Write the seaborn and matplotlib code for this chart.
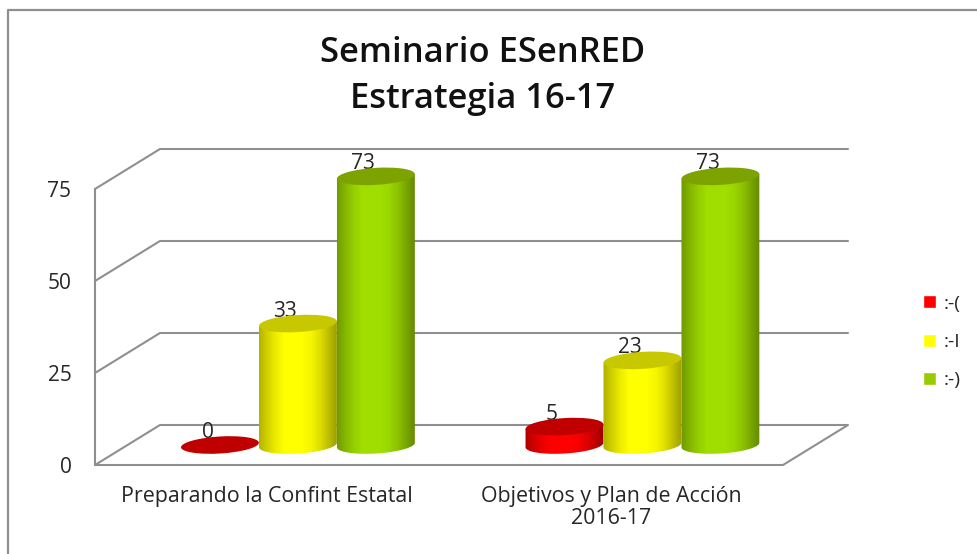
import numpy as np
import pandas as pd
import matplotlib.pyplot as plt
import seaborn as sns
from matplotlib.patches import Ellipse
from matplotlib.path import Path
from matplotlib.transforms import IdentityTransform, ScaledTranslation

categories = ['Preparando la Confint Estatal', 'Objetivos y Plan de Acción\n2016-17']
faces = [':-(', ':-I', ':-)']
sad = [0, 5]
neutral = [33, 23]
happy = [73, 73]
y_ticks = [0, 25, 50, 75]
title = 'Seminario ESenRED\nEstrategia 16-17'

legend_colors = ['#ff0000', '#ffff00', '#99cc00']
body_colors = [(1.0, 0.0, 0.0), (1.0, 1.0, 0.0), (0.63, 0.87, 0.0)]
top_colors = ['#c00000', '#c8c800', '#7da300']

W, H = 977, 554
GRAY = '#8f8f8f'
TEXT = '#262626'


def box(left, top, right, bottom):
    return [left / W, 1 - bottom / H, (right - left) / W, (bottom - top) / H]


sns.set_style('white')
plt.rcParams['font.family'] = ['Open Sans', 'DejaVu Sans']

df = pd.DataFrame({
    'cat': categories * 3,
    'face': [faces[0]] * 2 + [faces[1]] * 2 + [faces[2]] * 2,
    'val': sad + neutral + happy,
})

fig = plt.figure(figsize=(W / 100, H / 100), dpi=100)

# background in pixels: outer frame and the fake 3d walls
bg = fig.add_axes([0, 0, 1, 1], zorder=0)
bg.set_xlim(0, W)
bg.set_ylim(H, 0)
bg.axis('off')
bg.plot([8, 8, 977], [554, 10, 10], color=GRAY, lw=1.6)
for v in y_ticks[1:]:
    y = 465 - v * 276 / 75
    bg.plot([95, 160, 848], [y, y - 40, y - 40], color=GRAY, lw=1.5)
bg.plot([95, 160, 848, 783, 95], [465, 425, 425, 465, 465], color=GRAY, lw=1.5)

# value axis, sits on the front edge
wall = fig.add_axes(box(95, 189, 783, 465), zorder=1)
wall.set_ylim(0, 75)
wall.set_xticks([])
wall.set_yticks(y_ticks)
wall.patch.set_alpha(0)
for s in ['top', 'right', 'bottom']:
    wall.spines[s].set_visible(False)
wall.spines['left'].set_color(GRAY)
wall.spines['left'].set_linewidth(1.5)
wall.tick_params(axis='y', length=0, pad=17, labelsize=15, labelcolor=TEXT)

# the cylinders
ax = fig.add_axes(box(95, 149, 783, 465), zorder=2)
sns.barplot(data=df, x='cat', y='val', hue='face', hue_order=faces, order=categories,
            palette=legend_colors, width=0.679, gap=0, ax=ax, saturation=1)
ax.patch.set_alpha(0)
xlim = (-0.589, 1.408)
ylim = (-20 / 3.68, 296 / 3.68)
ax.set_xlim(xlim)
ax.set_ylim(ylim)
ax.set_xlabel('')
ax.set_ylabel('')
ax.set_yticks([])
sns.despine(ax=ax, left=True, bottom=True)
ax.tick_params(axis='x', length=0, pad=15, labelsize=15.4, labelcolor=TEXT)
# labels sit left of the bar groups in the original
shift = ScaledTranslation(-31 / 100, 0, fig.dpi_scale_trans)
for lab in ax.get_xticklabels():
    lab.set_linespacing(1.1)
    lab.set_transform(lab.get_transform() + shift)

EW, EH, TILT = 39.0, 8.5, np.deg2rad(3.5)
shade = np.array([0.66, 0.8, 0.92, 1.0, 1.0, 1.0, 0.96, 0.86, 0.72, 0.58])


def rim(cx, cy, angles):
    px = EW * np.cos(angles)
    py = EH * np.sin(angles)
    return np.c_[cx + px * np.cos(TILT) - py * np.sin(TILT),
                 cy + px * np.sin(TILT) + py * np.cos(TILT)]


for i, cont in enumerate(ax.containers):
    for bar in cont:
        x0, w, v = bar.get_x(), bar.get_width(), bar.get_height()
        bar.set_visible(False)
        z = 3 + i
        cx, base_y = ax.transData.transform((x0 + w / 2, 0))
        top_y = ax.transData.transform((0, v))[1]
        if v > 0:
            grad = np.outer(shade, body_colors[i]).reshape(1, len(shade), 3)
            im = ax.imshow(grad, extent=(x0 - 0.02, x0 + w + 0.02, -6, v + 4), aspect='auto',
                           interpolation='bilinear', zorder=z)
            side = np.vstack([rim(cx, top_y, np.array([np.pi, 0.0])),
                              rim(cx, base_y, np.linspace(0, -np.pi, 60))])
            im.set_clip_path(Path(np.vstack([side, side[:1]]), closed=True), IdentityTransform())
        ax.annotate(str(int(v)), (x0 + w / 2, v), xytext=(-9, 9), textcoords='offset points',
                    ha='center', va='center', fontsize=15, color=TEXT, zorder=z + 0.1,
                    annotation_clip=False)
        ax.add_patch(Ellipse((cx, top_y), 2 * EW, 2 * EH, angle=np.rad2deg(TILT),
                             transform=IdentityTransform(), facecolor=top_colors[i],
                             edgecolor='none', zorder=z + 0.2))
ax.set_xlim(xlim)
ax.set_ylim(ylim)

handles, labels = ax.get_legend_handles_labels()
fig.legend(handles, labels, loc='center left', bbox_to_anchor=(917 / W, 1 - 342 / H),
           frameon=False, fontsize=14, handlelength=0.67, handleheight=0.67,
           handletextpad=0.4, labelspacing=1.05, borderpad=0, borderaxespad=0.3,
           labelcolor=TEXT)
ax.get_legend().remove()

fig.text(483 / W, 1 - 76 / H, title, ha='center', va='center', fontsize=24.8,
         color='#111111', linespacing=1.47, fontweight='semibold')

fig.savefig('out.png', dpi=100)
